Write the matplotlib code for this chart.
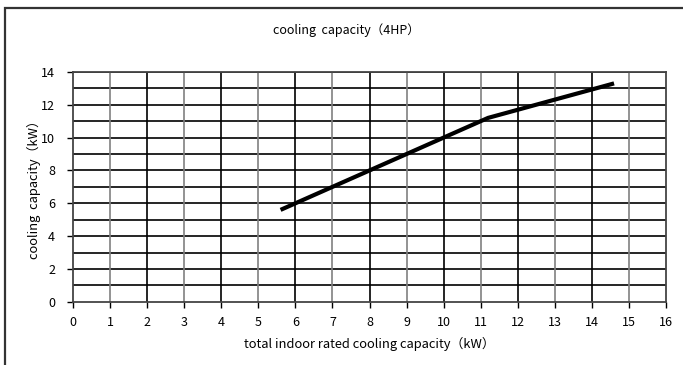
import matplotlib.pyplot as plt
from matplotlib.patches import Rectangle

plt.rcParams['font.family'] = ['Noto Sans CJK JP', 'DejaVu Sans']

# total indoor rated capacity vs. outdoor unit capacity
x = [5.6, 10.0, 11.2, 14.6]
y = [5.6, 10.0, 11.2, 13.3]

x_ticks = list(range(0, 17))
y_ticks = list(range(0, 15, 2))

fig = plt.figure(figsize=(6.83, 3.65), dpi=100)
ax = fig.add_axes([0.107, 0.173, 0.868, 0.630])

# outer chart frame, runs past the right/bottom edges
fig.patches.append(Rectangle((5 / 683, -0.1), 1.2, 1 - 8 / 365 + 0.1,
                             transform=fig.transFigure, fill=False,
                             edgecolor='#333333', linewidth=1.6))

# grid: every horizontal line dark, vertical lines dark on even values
for v in range(1, 15):
    ax.axhline(v, color='black', linewidth=1.2, zorder=1)
for v in range(1, 16):
    c = 'black' if v % 2 == 0 else '#808080'
    ax.axvline(v, color=c, linewidth=1.2, zorder=1)

ax.plot(x, y, color='black', linewidth=3.0, solid_capstyle='butt', zorder=3)

ax.set_xlim(0, 16)
ax.set_ylim(0, 14)
ax.set_xticks(x_ticks)
ax.set_yticks(y_ticks)
ax.tick_params(direction='out', length=4, width=1, labelsize=9, pad=6)
ax.tick_params(axis='y', pad=9)
for s in ax.spines.values():
    s.set_color('#444444')
    s.set_linewidth(1.3)

fig.text(346 / 683, 1 - 30 / 365, 'cooling  capacity（4HP）', fontsize=9,
         ha='center', va='center')
ax.set_xlabel('total indoor rated cooling capacity（kW）', fontsize=9.3, labelpad=6)
ax.set_ylabel('cooling  capacity（kW）', fontsize=9.3, labelpad=0)

fig.savefig('out.png', dpi=100)
